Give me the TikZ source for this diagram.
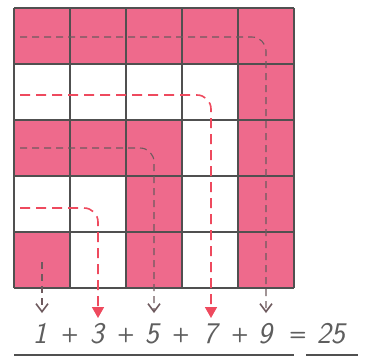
\documentclass[tikz,border=0pt]{standalone}
\usetikzlibrary{arrows.meta}
\definecolor{pinkf}{HTML}{EE6A8C}
\definecolor{gridc}{HTML}{505050}
\definecolor{dashg}{HTML}{6E5A5E}
\definecolor{redd}{HTML}{EE4A5E}
\definecolor{txtc}{HTML}{5E5E5E}
\tikzset{
  pinkcell/.style={fill=pinkf, draw=none},
  graypath/.style={draw=dashg, line width=1.1pt, dash pattern=on 7pt off 5pt, rounded corners=14pt,
     -{Straight Barb[length=8pt,width=12pt,line width=1.6pt]}},
  redpath/.style={draw=redd, line width=1.6pt, dash pattern=on 10pt off 6pt, rounded corners=14pt,
     -{Triangle[length=11pt,width=12pt]}},
  numtxt/.style={font=\fontsize{30}{30}\selectfont\sffamily\itshape, text=txtc, inner sep=0pt, anchor=base},
  optxt/.style={font=\fontsize{20}{20}\selectfont\sffamily\bfseries, text=txtc, inner sep=0pt, anchor=base},
  uline/.style={draw=gridc, line width=2.6pt}
}
\begin{document}
\begin{tikzpicture}[x=1pt,y=-1pt]
\useasboundingbox (0,0) rectangle (376,357);
% pink cells
\foreach \c/\r in {1/1,2/1,3/1,4/1,5/1, 5/2, 1/3,2/3,3/3,5/3, 3/4,5/4, 1/5,3/5,5/5}{
  \fill[pinkf] ({14+56*(\c-1)},{8+56*(\r-1)}) rectangle ++(56,56);
}
% grid
\foreach \i in {0,...,5}{
  \draw[gridc, line width=2.5pt] ({14+56*\i},8) -- ({14+56*\i},288);
  \draw[gridc, line width=2.5pt] (14,{8+56*\i}) -- (294,{8+56*\i});
}
% path coordinates
\coordinate (s9) at (20,37);   \coordinate (k9) at (266,37);  \coordinate (e9) at (266,313);
\coordinate (s7) at (20,95);   \coordinate (k7) at (211,95);  \coordinate (e7) at (211,318);
\coordinate (s5) at (20,148);  \coordinate (k5) at (154,148); \coordinate (e5) at (154,313);
\coordinate (s3) at (20,208);  \coordinate (k3) at (98,208);  \coordinate (e3) at (98,318);
\coordinate (s1) at (42,262);  \coordinate (e1) at (42,313);
\draw[graypath] (s9) -- (k9) -- (e9);
\draw[redpath]  (s7) -- (k7) -- (e7);
\draw[graypath] (s5) -- (k5) -- (e5);
\draw[redpath]  (s3) -- (k3) -- (e3);
\draw[graypath] (s1) -- (e1);
% equation
\node[numtxt] (n1) at (40,343) {1};
\node[optxt] (p1) at (70,340) {+};
\node[numtxt] (n3) at (97,343) {3};
\node[optxt] (p2) at (126,340) {+};
\node[numtxt] (n5) at (152,343) {5};
\node[optxt] (p3) at (181,340) {+};
\node[numtxt] (n7) at (210,343) {7};
\node[optxt] (p4) at (240,340) {+};
\node[numtxt] (n9) at (265,343) {9};
\node[optxt] (eq) at (298,340) {=};
\node[numtxt] (n25) at (331,343) {25};
\coordinate (u1) at (14,355); \coordinate (u2) at (294,355);
\coordinate (u3) at (306,355); \coordinate (u4) at (358,355);
\draw[uline] (u1) -- (u2);
\draw[uline] (u3) -- (u4);
\end{tikzpicture}
\end{document}
